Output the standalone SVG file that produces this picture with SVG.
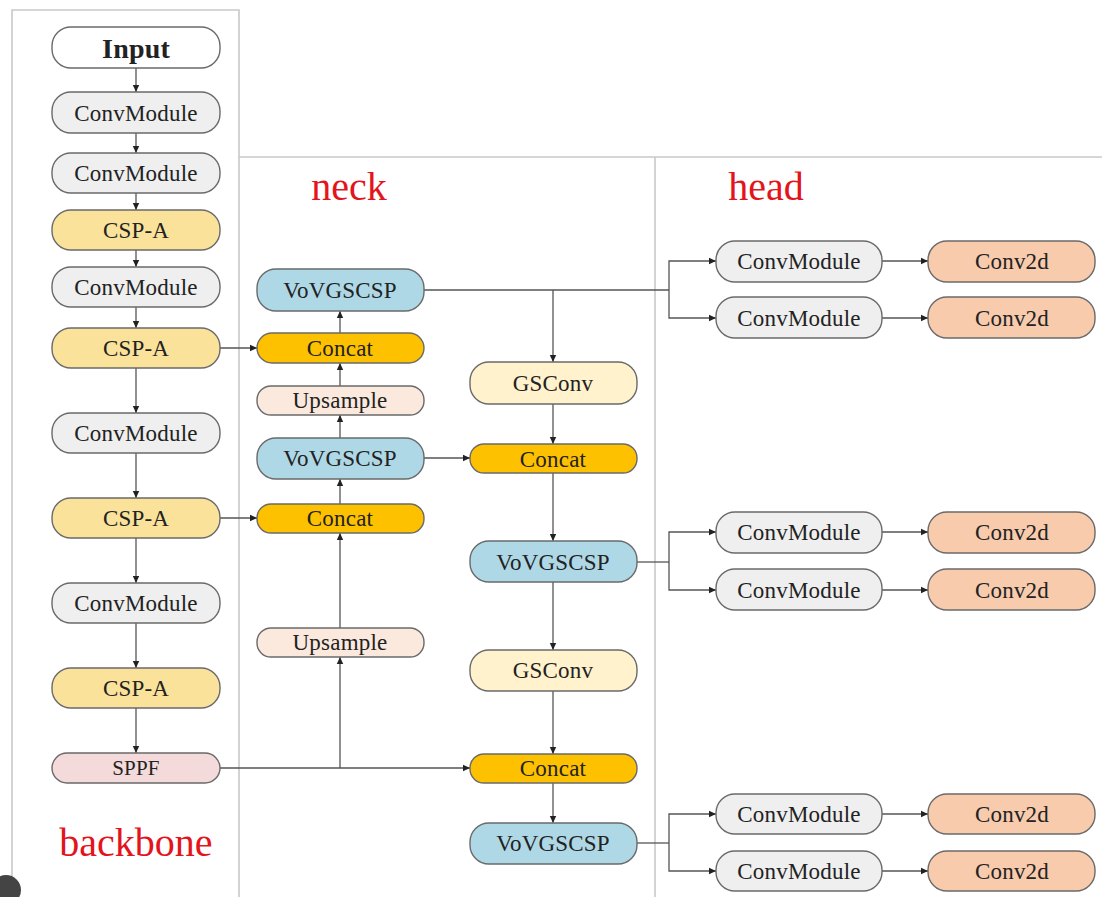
<svg xmlns="http://www.w3.org/2000/svg" width="1102" height="897" viewBox="0 0 1102 897">
<defs>
<marker id="ah" markerWidth="8" markerHeight="8" refX="7" refY="4" orient="auto" markerUnits="userSpaceOnUse">
<path d="M0,0.8 L7,4 L0,7.2 Z" fill="#222"/>
</marker>
<style>
.n rect{stroke:#6a6a6a;stroke-width:1.4}
.n text{font-family:"Liberation Serif","Times New Roman",serif;font-size:23px;fill:#222;text-anchor:middle;dominant-baseline:central;letter-spacing:0.2px}
.cm rect{fill:#efefef}
.csp rect{fill:#fbe29b}
.sppf rect{fill:#f4dada}
.vov rect{fill:#aed8e6}
.cat rect{fill:#fec100}
.up rect{fill:#fbe9dd}
.gs rect{fill:#fff2cc}
.c2 rect{fill:#f8cbad}
.frame{stroke:#c9c9c9;stroke-width:1.6;fill:none}
#connectors path{stroke:#555;stroke-width:1.3;fill:none}
#connectors .a{marker-end:url(#ah)}
.lbl{font-family:"Liberation Serif","Times New Roman",serif;font-size:40px;fill:#e3141c;text-anchor:middle}
</style>
</defs>
<rect width="1102" height="897" fill="#ffffff"/>
<g id="frames">
<path class="frame" d="M12,897 V10 H239 V897"/>
<path class="frame" d="M239,157 H1102"/>
<path class="frame" d="M655,157 V897"/>
</g>
<text class="lbl" x="349" y="200">neck</text>
<text class="lbl" x="766" y="200">head</text>
<text class="lbl" x="136" y="856">backbone</text>
<circle cx="6" cy="890" r="15" fill="#444"/>
<g id="connectors">
<path class="a" d="M136,68 V92"/>
<path class="a" d="M136,133 V153"/>
<path class="a" d="M136,193 V210"/>
<path class="a" d="M136,250 V267"/>
<path class="a" d="M136,307 V328"/>
<path class="a" d="M136,368 V413"/>
<path class="a" d="M136,453 V498"/>
<path class="a" d="M136,538 V583"/>
<path class="a" d="M136,623 V668"/>
<path class="a" d="M136,708 V753"/>
<path class="a" d="M220,348 H257"/>
<path class="a" d="M220,518 H257"/>
<path class="a" d="M220,768 H470"/>
<path class="a" d="M340,768 V657"/>
<path class="a" d="M340,628 V533"/>
<path class="a" d="M340,504 V479"/>
<path class="a" d="M340,438 V415"/>
<path class="a" d="M340,386 V363"/>
<path class="a" d="M340,333 V311"/>
<path d="M424,290 H669"/>
<path class="a" d="M553,290 V362"/>
<path class="a" d="M669,290 V261 H716"/>
<path class="a" d="M669,290 V318 H716"/>
<path class="a" d="M553,404 V444"/>
<path class="a" d="M424,458 H470"/>
<path class="a" d="M553,473 V541"/>
<path d="M637,562 H669"/>
<path class="a" d="M669,562 V532 H716"/>
<path class="a" d="M669,562 V590 H716"/>
<path class="a" d="M553,582 V650"/>
<path class="a" d="M553,691 V754"/>
<path class="a" d="M553,783 V823"/>
<path d="M637,843 H669"/>
<path class="a" d="M669,843 V814 H716"/>
<path class="a" d="M669,843 V871 H716"/>
<path class="a" d="M882,261 H928"/>
<path class="a" d="M882,318 H928"/>
<path class="a" d="M882,532 H928"/>
<path class="a" d="M882,590 H928"/>
<path class="a" d="M882,814 H928"/>
<path class="a" d="M882,871 H928"/>
</g>
<g id="input" class="n"><rect x="52" y="27" width="168" height="41" rx="19" fill="#ffffff"/><text x="136" y="48" style="font-weight:bold;font-size:28px">Input</text></g>
<g id="b_conv1" class="n cm"><rect x="52" y="92" width="168" height="41" rx="19"/><text x="136" y="113">ConvModule</text></g>
<g id="b_conv2" class="n cm"><rect x="52" y="153" width="168" height="40" rx="19"/><text x="136" y="173">ConvModule</text></g>
<g id="b_csp1" class="n csp"><rect x="52" y="210" width="168" height="40" rx="19"/><text x="136" y="230">CSP-A</text></g>
<g id="b_conv3" class="n cm"><rect x="52" y="267" width="168" height="40" rx="19"/><text x="136" y="287">ConvModule</text></g>
<g id="b_csp2" class="n csp"><rect x="52" y="328" width="168" height="40" rx="19"/><text x="136" y="348">CSP-A</text></g>
<g id="b_conv4" class="n cm"><rect x="52" y="413" width="168" height="40" rx="19"/><text x="136" y="433">ConvModule</text></g>
<g id="b_csp3" class="n csp"><rect x="52" y="498" width="168" height="40" rx="19"/><text x="136" y="518">CSP-A</text></g>
<g id="b_conv5" class="n cm"><rect x="52" y="583" width="168" height="40" rx="19"/><text x="136" y="603">ConvModule</text></g>
<g id="b_csp4" class="n csp"><rect x="52" y="668" width="168" height="40" rx="19"/><text x="136" y="688">CSP-A</text></g>
<g id="b_sppf" class="n sppf"><rect x="52" y="753" width="168" height="30" rx="15"/><text x="136" y="768" style="font-size:21px">SPPF</text></g>
<g id="n_vov1" class="n vov"><rect x="257" y="269" width="167" height="42" rx="19"/><text x="340" y="290">VoVGSCSP</text></g>
<g id="n_cat1" class="n cat"><rect x="257" y="333" width="167" height="30" rx="15"/><text x="340" y="348">Concat</text></g>
<g id="n_up1" class="n up"><rect x="257" y="386" width="167" height="29" rx="14"/><text x="340" y="400">Upsample</text></g>
<g id="n_vov2" class="n vov"><rect x="257" y="438" width="167" height="41" rx="19"/><text x="340" y="458">VoVGSCSP</text></g>
<g id="n_cat2" class="n cat"><rect x="257" y="504" width="167" height="29" rx="14"/><text x="340" y="518">Concat</text></g>
<g id="n_up2" class="n up"><rect x="257" y="628" width="167" height="29" rx="14"/><text x="340" y="642">Upsample</text></g>
<g id="n_gs1" class="n gs"><rect x="470" y="362" width="167" height="42" rx="19"/><text x="553" y="383">GSConv</text></g>
<g id="n_cat3" class="n cat"><rect x="470" y="444" width="167" height="29" rx="14"/><text x="553" y="459">Concat</text></g>
<g id="n_vov3" class="n vov"><rect x="470" y="541" width="167" height="41" rx="19"/><text x="553" y="562">VoVGSCSP</text></g>
<g id="n_gs2" class="n gs"><rect x="470" y="650" width="167" height="41" rx="19"/><text x="553" y="670">GSConv</text></g>
<g id="n_cat4" class="n cat"><rect x="470" y="754" width="167" height="29" rx="14"/><text x="553" y="768">Concat</text></g>
<g id="n_vov4" class="n vov"><rect x="470" y="823" width="167" height="41" rx="19"/><text x="553" y="843">VoVGSCSP</text></g>
<g id="h_cm1" class="n cm"><rect x="716" y="241" width="166" height="41" rx="19"/><text x="799" y="261">ConvModule</text></g>
<g id="h_cm2" class="n cm"><rect x="716" y="297" width="166" height="41" rx="19"/><text x="799" y="318">ConvModule</text></g>
<g id="h_cm3" class="n cm"><rect x="716" y="512" width="166" height="41" rx="19"/><text x="799" y="532">ConvModule</text></g>
<g id="h_cm4" class="n cm"><rect x="716" y="569" width="166" height="41" rx="19"/><text x="799" y="590">ConvModule</text></g>
<g id="h_cm5" class="n cm"><rect x="716" y="794" width="166" height="40" rx="19"/><text x="799" y="814">ConvModule</text></g>
<g id="h_cm6" class="n cm"><rect x="716" y="851" width="166" height="40" rx="19"/><text x="799" y="871">ConvModule</text></g>
<g id="h_c2d1" class="n c2"><rect x="928" y="241" width="167" height="41" rx="19"/><text x="1012" y="261">Conv2d</text></g>
<g id="h_c2d2" class="n c2"><rect x="928" y="297" width="167" height="41" rx="19"/><text x="1012" y="318">Conv2d</text></g>
<g id="h_c2d3" class="n c2"><rect x="928" y="512" width="167" height="41" rx="19"/><text x="1012" y="532">Conv2d</text></g>
<g id="h_c2d4" class="n c2"><rect x="928" y="569" width="167" height="41" rx="19"/><text x="1012" y="590">Conv2d</text></g>
<g id="h_c2d5" class="n c2"><rect x="928" y="794" width="167" height="40" rx="19"/><text x="1012" y="814">Conv2d</text></g>
<g id="h_c2d6" class="n c2"><rect x="928" y="851" width="167" height="40" rx="19"/><text x="1012" y="871">Conv2d</text></g>
</svg>
